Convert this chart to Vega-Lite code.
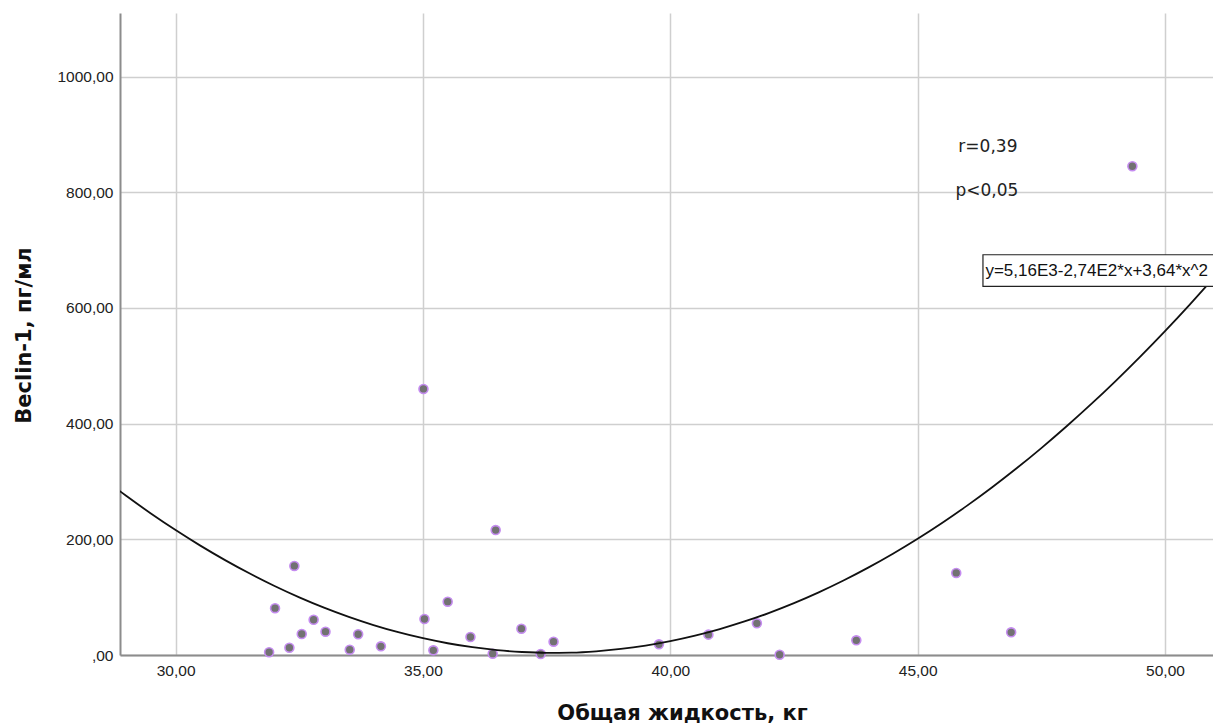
{
  "$schema": "https://vega.github.io/schema/vega-lite/v6.json",
  "width": 1093,
  "height": 642,
  "autosize": {"type": "none"},
  "padding": {"left": 120, "top": 13, "right": 0, "bottom": 70},
  "background": "white",
  "config": {
    "view": {"stroke": null},
    "font": "Liberation Sans",
    "axis": {
      "labelFont": "Liberation Sans",
      "titleFont": "DejaVu Sans",
      "labelFontSize": 15.5,
      "labelColor": "#222222",
      "titleFontSize": 21,
      "titleFontWeight": "bold",
      "titleColor": "#111111",
      "domainColor": "#8c8c8c",
      "domainWidth": 2,
      "gridColor": "#cfcfcf",
      "gridWidth": 1.5,
      "ticks": false
    }
  },
  "datasets": {
    "pts": [
      {"x": 31.89, "y": 4.7}, {"x": 32.01, "y": 81}, {"x": 32.30, "y": 12.6}, {"x": 32.40, "y": 154},
      {"x": 32.55, "y": 36.3}, {"x": 32.79, "y": 61}, {"x": 33.03, "y": 40.3}, {"x": 33.52, "y": 9.2},
      {"x": 33.69, "y": 35.8}, {"x": 34.15, "y": 15}, {"x": 35.03, "y": 62.3}, {"x": 35.01, "y": 460},
      {"x": 35.21, "y": 8.1}, {"x": 35.50, "y": 92.2}, {"x": 35.96, "y": 31.1}, {"x": 36.41, "y": 2.3},
      {"x": 36.47, "y": 216}, {"x": 36.99, "y": 45.5}, {"x": 37.38, "y": 1.7}, {"x": 37.64, "y": 23},
      {"x": 39.77, "y": 18.5}, {"x": 40.77, "y": 35.2}, {"x": 41.75, "y": 54.8}, {"x": 42.21, "y": 0.5},
      {"x": 43.76, "y": 25.4}, {"x": 45.78, "y": 141.9}, {"x": 46.89, "y": 39.2}, {"x": 49.34, "y": 845}
    ],
    "fit": [
      {"x": 28.8, "y": 287.96}, {"x": 29, "y": 275.24}, {"x": 29.5, "y": 244.71}, {"x": 30, "y": 216},
      {"x": 30.5, "y": 189.11}, {"x": 31, "y": 164.04}, {"x": 31.5, "y": 140.79}, {"x": 32, "y": 119.36},
      {"x": 32.5, "y": 99.75}, {"x": 33, "y": 81.96}, {"x": 33.5, "y": 65.99}, {"x": 34, "y": 51.84},
      {"x": 34.5, "y": 39.51}, {"x": 35, "y": 29}, {"x": 35.5, "y": 20.31}, {"x": 36, "y": 13.44},
      {"x": 36.5, "y": 8.39}, {"x": 37, "y": 5.16}, {"x": 37.5, "y": 3.75}, {"x": 38, "y": 4.16},
      {"x": 38.5, "y": 6.39}, {"x": 39, "y": 10.44}, {"x": 39.5, "y": 16.31}, {"x": 40, "y": 24},
      {"x": 40.5, "y": 33.51}, {"x": 41, "y": 44.84}, {"x": 41.5, "y": 57.99}, {"x": 42, "y": 72.96},
      {"x": 42.5, "y": 89.75}, {"x": 43, "y": 108.36}, {"x": 43.5, "y": 128.79}, {"x": 44, "y": 151.04},
      {"x": 44.5, "y": 175.11}, {"x": 45, "y": 201}, {"x": 45.5, "y": 228.71}, {"x": 46, "y": 258.24},
      {"x": 46.5, "y": 289.59}, {"x": 47, "y": 322.76}, {"x": 47.5, "y": 357.75}, {"x": 48, "y": 394.56},
      {"x": 48.5, "y": 433.19}, {"x": 49, "y": 473.64}, {"x": 49.5, "y": 515.91}, {"x": 50, "y": 560},
      {"x": 50.5, "y": 605.91}, {"x": 51, "y": 653.64}
    ],
    "notes": [
      {"x": 46.42, "y": 878, "label": "r=0,39"},
      {"x": 46.40, "y": 802, "label": "p<0,05"}
    ],
    "box": [
      {"x": 46.32, "x2": 51.6, "y": 637.2, "y2": 692, "x0": 46.37, "ym": 664, "label": "y=5,16E3-2,74E2*x+3,64*x^2"}
    ]
  },
  "layer": [
    {
      "data": {"name": "pts"},
      "mark": {"type": "circle", "size": 80, "fill": "#727272", "stroke": "#c58cf0", "strokeWidth": 1.6, "opacity": 1},
      "encoding": {
        "x": {
          "field": "x", "type": "quantitative",
          "scale": {"domain": [28.876, 50.97], "nice": false, "zero": false},
          "axis": {
            "title": "Общая жидкость, кг",
            "values": [30, 35, 40, 45, 50],
            "labelExpr": "replace(format(datum.value, '.2f'), '.', ',')",
            "labelPadding": 8,
            "titleX": 562,
            "titleAnchor": null,
            "titleAlign": "center",
            "titleY": 64,
            "titleBaseline": "alphabetic"
          }
        },
        "y": {
          "field": "y", "type": "quantitative",
          "scale": {"domain": [0, 1110], "nice": false},
          "axis": {
            "title": "Beclin-1, пг/мл",
            "values": [0, 200, 400, 600, 800, 1000],
            "labelExpr": "datum.value == 0 ? ',00' : replace(format(datum.value, '.2f'), '.', ',')",
            "labelPadding": 7,
            "titleX": -96,
            "titleY": 322,
            "titleAlign": "center",
            "titleBaseline": "middle"
          }
        }
      }
    },
    {
      "data": {"name": "fit"},
      "mark": {"type": "line", "color": "#111111", "strokeWidth": 1.8, "interpolate": "monotone", "clip": true},
      "encoding": {
        "x": {"field": "x", "type": "quantitative"},
        "y": {"field": "y", "type": "quantitative"}
      }
    },
    {
      "data": {"name": "box"},
      "mark": {"type": "rect", "fill": "white", "stroke": "#222222", "strokeWidth": 1.2, "clip": true},
      "encoding": {
        "x": {"field": "x", "type": "quantitative"},
        "x2": {"field": "x2"},
        "y": {"field": "y", "type": "quantitative"},
        "y2": {"field": "y2"}
      }
    },
    {
      "data": {"name": "box"},
      "mark": {"type": "text", "align": "left", "baseline": "middle", "fontSize": 17, "font": "Liberation Sans", "color": "#111111", "clip": true},
      "encoding": {
        "x": {"field": "x0", "type": "quantitative"},
        "y": {"field": "ym", "type": "quantitative"},
        "text": {"field": "label"}
      }
    },
    {
      "data": {"name": "notes"},
      "mark": {"type": "text", "align": "center", "baseline": "middle", "fontSize": 17, "font": "DejaVu Sans", "color": "#222222"},
      "encoding": {
        "x": {"field": "x", "type": "quantitative"},
        "y": {"field": "y", "type": "quantitative"},
        "text": {"field": "label"}
      }
    }
  ]
}
